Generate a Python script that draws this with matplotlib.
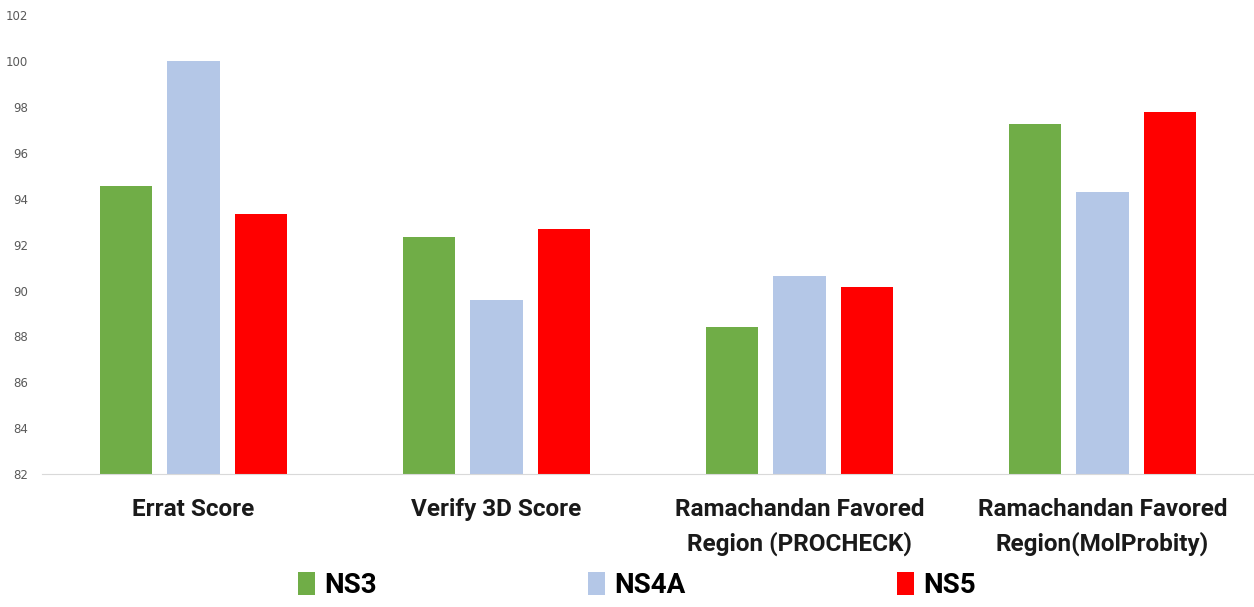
import numpy as np
import matplotlib.pyplot as plt

# scores per validation method
categories = ['Errat Score', 'Verify 3D Score',
              'Ramachandan Favored\nRegion (PROCHECK)',
              'Ramachandan Favored\nRegion(MolProbity)']
ns3 = [94.55, 92.35, 88.4, 97.25]
ns4a = [100.0, 89.6, 90.65, 94.3]
ns5 = [93.35, 92.7, 90.15, 97.8]

series = [('NS3', ns3, '#70AD47'), ('NS4A', ns4a, '#B4C7E7'), ('NS5', ns5, '#FF0000')]

font = ['Roboto', 'DejaVu Sans']

fig = plt.figure(figsize=(12.54, 6.07), dpi=100)
ax = fig.add_axes([0.0335, 0.219, 0.9665, 0.756])

x = np.arange(len(categories))
width = 0.172
step = 0.222
for i, (name, vals, col) in enumerate(series):
    ax.bar(x + (i - 1) * step, vals, width, color=col, label=name, zorder=2)

ax.set_xlim(-0.5, 3.5)
ax.set_ylim(82, 102)
ax.set_yticks(np.arange(82, 103, 2))
ax.set_xticks(x)
ax.set_xticklabels(categories, fontsize=17.5, fontweight='bold', family=font,
                   color='#1a1a1a', linespacing=1.55)
ax.tick_params(axis='y', length=0, labelsize=8.5, labelcolor='#595959', pad=10)
ax.tick_params(axis='x', length=0, pad=17)
for s in ['top', 'right', 'left']:
    ax.spines[s].set_visible(False)
ax.spines['bottom'].set_color('#d9d9d9')

fig.legend(loc='lower center', bbox_to_anchor=(0.508, -0.028), ncol=3, frameon=False,
           prop={'family': font, 'weight': 'bold', 'size': 20},
           handlelength=0.6, handleheight=0.9, handletextpad=0.35, columnspacing=7.6)

fig.savefig('out.png', dpi=100)
